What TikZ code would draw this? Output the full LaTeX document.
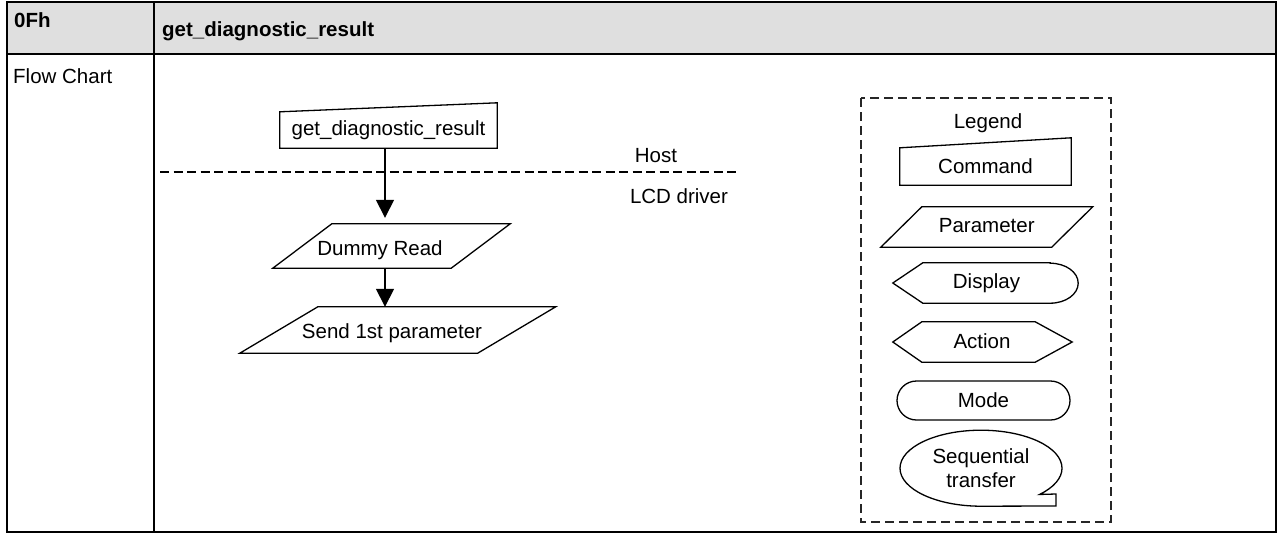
\documentclass[tikz,border=0pt]{standalone}
\usepackage{fontspec}
\setmainfont{Liberation Sans}
\usetikzlibrary{arrows.meta,calc}
\definecolor{hdr}{RGB}{223,223,223}
\newcommand{\fs}{\fontsize{20.5}{24}\selectfont}
\tikzset{
  tbl/.style={line width=2pt, draw=black},
  shp/.style={draw=none, inner sep=0pt, font=\fs, anchor=center},
  outl/.style={draw=black, line width=1.3pt, line join=miter},
  arr/.style={line width=1.5pt, -{Triangle[length=18pt,width=18pt]}},
  dashln/.style={line width=1.3pt, dash pattern=on 9pt off 4.5pt},
  legbox/.style={line width=1.7pt, draw=black!85, dash pattern=on 9pt off 5pt},
  txt/.style={inner sep=0pt, font=\fs},
}
\begin{document}
\begin{tikzpicture}[x=1pt,y=-1pt]
\useasboundingbox (0,0) rectangle (1282,533);
% table
\fill[hdr] (7,2) rectangle (1276,54);
\draw[tbl] (7,2) rectangle (1276,532);
\draw[tbl] (7,54) -- (1276,54);
\draw[tbl] (154,2) -- (154,532);
\node[txt, anchor=base west, font=\fs\bfseries] (code) at (14,27) {0Fh};
\node[txt, anchor=base west, font=\fs\bfseries] (title) at (162,36) {get\_diagnostic\_result};
\node[txt, anchor=base west] (fc) at (13,83) {Flow Chart};

% host / driver separation
\coordinate (hl) at (160,172);
\coordinate (hr) at (740,172);
\draw[dashln] (hl) -- (hr);
\node[txt, anchor=base] (host) at (656,162) {Host};
\node[txt, anchor=base] (lcd) at (679,203) {LCD driver};

% flow chart
\node[shp, minimum width=217pt, minimum height=36pt, text height=15pt, text depth=5pt] (cmd) at (388.5,130) {get\_diagnostic\_result};
\draw[outl] (cmd.south west) -- (cmd.north west) -- ([yshift=9pt]cmd.north east) -- (cmd.south east) -- cycle;

\node[shp, minimum width=178pt, minimum height=44pt, text height=18pt, text depth=0pt] (dummy) at (391.5,246) {\hspace*{-23pt}Dummy Read};
\draw[outl] ([xshift=-29.5pt]dummy.south west) -- ([xshift=29.5pt]dummy.north west) -- ([xshift=29.5pt]dummy.north east) -- ([xshift=-29.5pt]dummy.south east) -- cycle;

\node[shp, minimum width=237.5pt, minimum height=46pt, text height=16pt, text depth=0pt] (send) at (397.75,330) {\hspace*{-11.5pt}Send 1st parameter};
\draw[outl] ([xshift=-39pt]send.south west) -- ([xshift=39pt]send.north west) -- ([xshift=39pt]send.north east) -- ([xshift=-39pt]send.south east) -- cycle;

\draw[arr, shorten >=6pt] ([xshift=-3.5pt]cmd.south) -- ([xshift=-6.5pt]dummy.north);
\draw[arr] ([xshift=-6.5pt]dummy.south) -- ([xshift=-12.75pt]send.north);

% legend
\draw[legbox] (861,98) rectangle (1111,522);
\node[txt, anchor=base] (leg) at (988,128) {Legend};

\node[shp, minimum width=171pt, minimum height=37pt, text height=15pt, text depth=2pt] (lcmd) at (985.5,166.5) {Command};
\draw[outl] (lcmd.south west) -- (lcmd.north west) -- ([yshift=10pt]lcmd.north east) -- (lcmd.south east) -- cycle;

\node[shp, minimum width=170.5pt, minimum height=40pt, text height=15pt, text depth=5pt] (lpar) at (986.75,227) {Parameter};
\draw[outl] ([xshift=-20.5pt]lpar.south west) -- ([xshift=20.5pt]lpar.north west) -- ([xshift=20.5pt]lpar.north east) -- ([xshift=-20.5pt]lpar.south east) -- cycle;

\node[shp, minimum width=127pt, minimum height=40pt, text height=15pt, text depth=5pt] (ldisp) at (986.5,283) {Display};
\draw[outl] (ldisp.north east) -- (ldisp.north west) -- ([xshift=-30pt]ldisp.west) -- (ldisp.south west) -- (ldisp.south east) arc[start angle=-90, end angle=90, x radius=28pt, y radius=20pt] -- cycle;

\node[shp, minimum width=113pt, minimum height=40pt, text height=15pt, text depth=3pt] (lact) at (978.5,342) {\hspace*{7pt}Action};
\draw[outl] (lact.north west) -- (lact.north east) -- ([xshift=37pt]lact.east) -- (lact.south east) -- (lact.south west) -- ([xshift=-29pt]lact.west) -- cycle;

\node[shp, draw=black, line width=1.3pt, rounded corners=19.5pt, minimum width=173pt, minimum height=39pt, text height=15pt, text depth=2pt] (lmode) at (983.5,400.5) {Mode};

\node[shp, minimum width=162pt, minimum height=76pt, align=center] (lseq) at (981,468) {Sequential\\transfer};
\draw[outl] (lseq.south) arc[start angle=-90, end angle=-403.7, x radius=81pt, y radius=38pt] -- (1056,494) -- (1056,506) -- cycle;
\end{tikzpicture}
\end{document}
